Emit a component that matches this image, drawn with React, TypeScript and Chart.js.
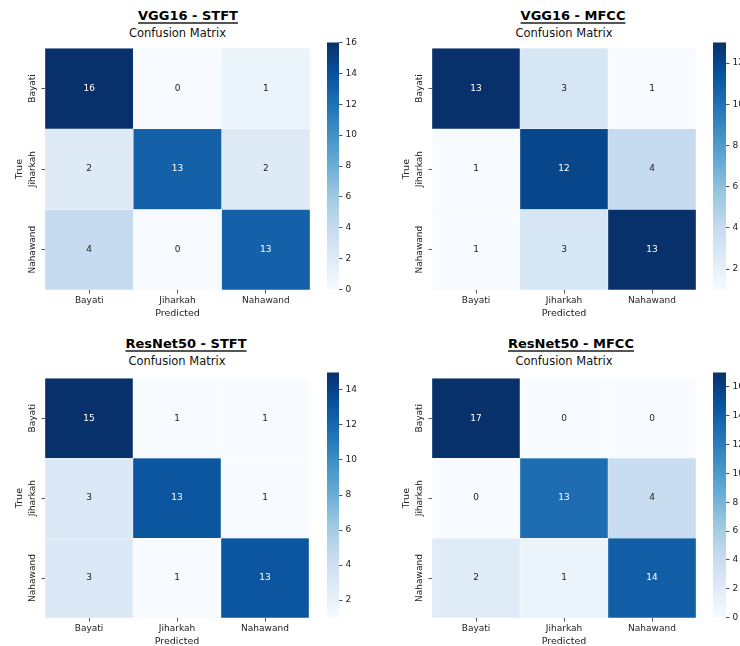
import React, { useEffect, useRef } from 'react';
import { Chart, registerables } from 'chart.js';

Chart.register(...registerables);

// ---- data ---------------------------------------------------------------
const CLASSES = ['Bayati', 'Jiharkah', 'Nahawand'];

// rows = true class, columns = predicted class
const VGG16_STFT = [
  [16, 0, 1],
  [2, 13, 2],
  [4, 0, 13],
];
const VGG16_MFCC = [
  [13, 3, 1],
  [1, 12, 4],
  [1, 3, 13],
];
const RESNET50_STFT = [
  [15, 1, 1],
  [3, 13, 1],
  [3, 1, 13],
];
const RESNET50_MFCC = [
  [17, 0, 0],
  [0, 13, 4],
  [2, 1, 14],
];

const PANEL_TITLES = ['VGG16 - STFT', 'VGG16 - MFCC', 'ResNet50 - STFT', 'ResNet50 - MFCC'];
const SUBTITLE = 'Confusion Matrix';
const X_TITLE = 'Predicted';
const Y_TITLE = 'True';
const COLORBAR_STEP = 2;

// matplotlib "Blues" colormap control points
const BLUES = ['#f7fbff', '#deebf7', '#c6dbef', '#9ecae1', '#6baed6', '#4292c6', '#2171b5', '#08519c', '#08306b'];

// ---- layout -------------------------------------------------------------
const FONT = "'DejaVu Sans', sans-serif";
const TEXT = '#222222';
const Y_AXIS_W = 45;
const X_AXIS_H = 31;
const CB_AXIS_W = 40;
const CB_PAD = 8;

type Box = { left: number; top: number; right: number; bottom: number };
type Layout = { heat: Box; bar: { left: number; right: number }; titleX: number; titleBase: number; subBase: number };

const LAYOUTS: Layout[] = [
  { heat: { left: 45, top: 42, right: 310, bottom: 290 }, bar: { left: 327, right: 339 }, titleX: 188, titleBase: 20, subBase: 37.3 },
  { heat: { left: 432, top: 42, right: 696, bottom: 290 }, bar: { left: 713, right: 726 }, titleX: 573, titleBase: 20, subBase: 37.3 },
  { heat: { left: 45, top: 372, right: 309, bottom: 618 }, bar: { left: 327, right: 339 }, titleX: 186, titleBase: 348.3, subBase: 365.7 },
  { heat: { left: 432, top: 372, right: 696, bottom: 618 }, bar: { left: 713, right: 726 }, titleX: 571, titleBase: 348.3, subBase: 365.7 },
];

const MATRICES = [VGG16_STFT, VGG16_MFCC, RESNET50_STFT, RESNET50_MFCC];

// ---- colour helpers -----------------------------------------------------
const hexToRgb = (h: string) => {
  const n = parseInt(h.slice(1), 16);
  return [(n >> 16) & 255, (n >> 8) & 255, n & 255];
};
const BLUES_RGB = BLUES.map(hexToRgb);

function blues(t: number): number[] {
  const tt = Math.max(0, Math.min(1, t));
  const s = tt * (BLUES_RGB.length - 1);
  const i = Math.min(Math.floor(s), BLUES_RGB.length - 2);
  const f = s - i;
  const a = BLUES_RGB[i];
  const b = BLUES_RGB[i + 1];
  return a.map((v, k) => Math.round(v + (b[k] - v) * f));
}

const rgbStr = (c: number[]) => `rgb(${c[0]},${c[1]},${c[2]})`;

function luminance(c: number[]) {
  const l = c.map((v) => {
    const x = v / 255;
    return x <= 0.03928 ? x / 12.92 : Math.pow((x + 0.055) / 1.055, 2.4);
  });
  return 0.2126 * l[0] + 0.7152 * l[1] + 0.0722 * l[2];
}

// ---- heatmap ------------------------------------------------------------
function Heatmap({ matrix, heat }: { matrix: number[][]; heat: Box }) {
  const ref = useRef<HTMLCanvasElement>(null);
  const width = heat.right - heat.left + Y_AXIS_W + 2;
  const height = heat.bottom - heat.top + 1 + X_AXIS_H;

  useEffect(() => {
    const flat = matrix.flat();
    const vmin = Math.min(...flat);
    const vmax = Math.max(...flat);
    const colorOf = (v: number) => blues((v - vmin) / (vmax - vmin));

    // annotate every cell with its count
    const cellValues = {
      id: 'cellValues',
      afterDatasetsDraw(chart: any) {
        const ctx = chart.ctx;
        ctx.save();
        ctx.font = `9px ${FONT}`;
        ctx.textAlign = 'center';
        ctx.textBaseline = 'middle';
        matrix.forEach((row, r) => {
          const meta = chart.getDatasetMeta(r);
          row.forEach((v, c) => {
            const el = meta.data[c];
            if (!el) return;
            const p = el.getCenterPoint();
            ctx.fillStyle = luminance(colorOf(v)) > 0.408 ? TEXT : '#ffffff';
            ctx.fillText(String(v), p.x, p.y);
          });
        });
        ctx.restore();
      },
    };

    // rotated row labels on the y axis
    const rowLabels = {
      id: 'rowLabels',
      afterDraw(chart: any) {
        const ctx = chart.ctx;
        const y = chart.scales.y;
        ctx.save();
        ctx.font = `9px ${FONT}`;
        ctx.fillStyle = TEXT;
        ctx.textAlign = 'center';
        ctx.textBaseline = 'alphabetic';
        CLASSES.forEach((lab, i) => {
          const py = y.getPixelForValue(i + 0.5);
          ctx.save();
          ctx.translate(chart.chartArea.left - 10, py);
          ctx.rotate(-Math.PI / 2);
          ctx.fillText(lab, 0, 0);
          ctx.restore();
        });
        ctx.restore();
      },
    };

    const chart = new Chart(ref.current as HTMLCanvasElement, {
      type: 'bar',
      data: {
        labels: CLASSES,
        datasets: matrix.map((row, r) => ({
          label: CLASSES[r],
          data: row.map(() => 1),
          backgroundColor: row.map((v) => rgbStr(colorOf(v))),
          borderColor: 'rgba(255,255,255,0.45)',
          borderWidth: 0.5,
          borderSkipped: false,
          barPercentage: 1,
          categoryPercentage: 1,
        })),
      },
      options: {
        animation: false,
        responsive: false,
        devicePixelRatio: 1,
        events: [],
        layout: { padding: { top: 1, right: 2, left: 0, bottom: 0 } },
        plugins: { legend: { display: false }, tooltip: { enabled: false } },
        scales: {
          x: {
            type: 'category',
            stacked: true,
            offset: true,
            afterFit: (s: any) => {
              s.height = X_AXIS_H;
            },
            grid: { display: true, drawOnChartArea: false, drawTicks: true, tickLength: 3.5, offset: false, color: '#555' },
            border: { display: false },
            ticks: { font: { family: FONT, size: 9 }, color: TEXT, padding: 2, maxRotation: 0, autoSkip: false },
            title: { display: true, text: X_TITLE, font: { family: FONT, size: 9.5 }, color: TEXT, padding: { top: 0, bottom: 2 } },
          },
          y: {
            type: 'linear',
            stacked: true,
            reverse: true,
            min: 0,
            max: CLASSES.length,
            afterFit: (s: any) => {
              s.width = Y_AXIS_W;
            },
            afterBuildTicks: (s: any) => {
              s.ticks = CLASSES.map((_, i) => ({ value: i + 0.5 }));
            },
            grid: { display: true, drawOnChartArea: false, drawTicks: true, tickLength: 3.5, color: '#555' },
            border: { display: false },
            ticks: { callback: () => '', padding: 0 },
            title: { display: true, text: Y_TITLE, font: { family: FONT, size: 9.5 }, color: TEXT, padding: { top: 14.3, bottom: 0 } },
          },
        },
      } as any,
      plugins: [cellValues, rowLabels],
    });
    return () => chart.destroy();
  }, [matrix]);

  return (
    <canvas
      ref={ref}
      width={width}
      height={height}
      style={{ position: 'absolute', left: heat.left - Y_AXIS_W, top: heat.top - 1, width, height }}
    />
  );
}

// ---- colour bar ---------------------------------------------------------
function Colorbar({ vmin, vmax, heat, bar }: { vmin: number; vmax: number; heat: Box; bar: { left: number; right: number } }) {
  const ref = useRef<HTMLCanvasElement>(null);
  const width = bar.right - bar.left + CB_AXIS_W;
  const height = heat.bottom - heat.top + CB_PAD * 2;

  useEffect(() => {
    const chart = new Chart(ref.current as HTMLCanvasElement, {
      type: 'bar',
      data: {
        labels: [''],
        datasets: [
          {
            data: [[vmin, vmax]],
            backgroundColor: (c: any) => {
              const area = c.chart.chartArea;
              if (!area) return BLUES[4];
              const g = c.chart.ctx.createLinearGradient(0, area.bottom, 0, area.top);
              BLUES.forEach((col, i) => g.addColorStop(i / (BLUES.length - 1), col));
              return g;
            },
            borderWidth: 0,
            barPercentage: 1,
            categoryPercentage: 1,
          },
        ],
      },
      options: {
        animation: false,
        responsive: false,
        devicePixelRatio: 1,
        events: [],
        layout: { padding: { top: CB_PAD, bottom: CB_PAD, left: 0, right: 0 } },
        plugins: { legend: { display: false }, tooltip: { enabled: false } },
        scales: {
          x: { display: false },
          y: {
            position: 'right',
            min: vmin,
            max: vmax,
            afterFit: (s: any) => {
              s.width = CB_AXIS_W;
            },
            // ticks on the even multiples of the step inside [vmin, vmax]
            afterBuildTicks: (s: any) => {
              const ticks = [];
              for (let v = Math.ceil(vmin / COLORBAR_STEP) * COLORBAR_STEP; v <= vmax; v += COLORBAR_STEP) {
                ticks.push({ value: v });
              }
              s.ticks = ticks;
            },
            grid: { display: true, drawOnChartArea: false, drawTicks: true, tickLength: 3.5, color: '#555' },
            border: { display: false },
            ticks: { font: { family: FONT, size: 9 }, color: TEXT, padding: 3 },
          },
        },
      } as any,
    });
    return () => chart.destroy();
  }, [vmin, vmax]);

  return (
    <canvas
      ref={ref}
      width={width}
      height={height}
      style={{ position: 'absolute', left: bar.left, top: heat.top - CB_PAD, width, height }}
    />
  );
}

// ---- one subplot --------------------------------------------------------
function Panel({ title, matrix, layout }: { title: string; matrix: number[][]; layout: Layout }) {
  const flat = matrix.flat();
  const vmin = Math.min(...flat);
  const vmax = Math.max(...flat);
  const { heat, bar } = layout;
  return (
    <>
      <div
        style={{
          position: 'absolute',
          left: layout.titleX - 150,
          width: 300,
          top: layout.titleBase - 11,
          textAlign: 'center',
          font: `bold 13px/13px ${FONT}`,
          color: '#000',
          whiteSpace: 'nowrap',
          textDecoration: 'underline',
          textDecorationThickness: '1.5px',
          textUnderlineOffset: '2px',
          textDecorationColor: '#555',
        }}
      >
        {title}
      </div>
      <div
        style={{
          position: 'absolute',
          left: heat.left,
          width: heat.right - heat.left,
          top: layout.subBase - 9.7,
          textAlign: 'center',
          font: `11.5px/11.5px ${FONT}`,
          color: '#111',
          whiteSpace: 'nowrap',
        }}
      >
        {SUBTITLE}
      </div>
      <Heatmap matrix={matrix} heat={heat} />
      <Colorbar vmin={vmin} vmax={vmax} heat={heat} bar={bar} />
    </>
  );
}

export default function App() {
  return (
    <div
      style={{
        position: 'absolute',
        left: 0,
        top: 0,
        width: 740,
        height: 646,
        overflow: 'hidden',
        background: '#ffffff',
      }}
    >
      {MATRICES.map((m, i) => (
        <Panel key={i} title={PANEL_TITLES[i]} matrix={m} layout={LAYOUTS[i]} />
      ))}
    </div>
  );
}
